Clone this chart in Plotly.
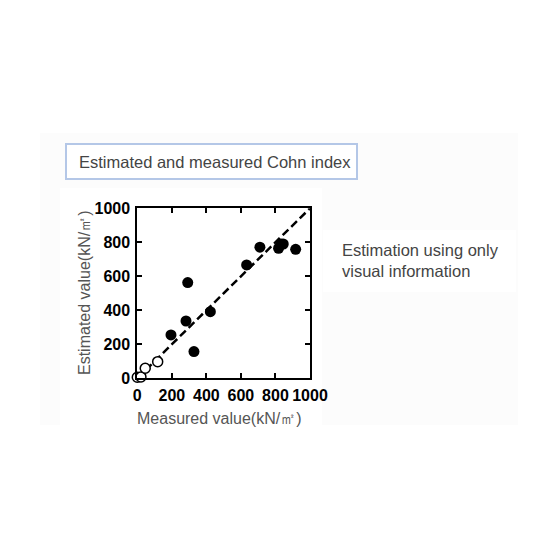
import plotly.graph_objects as go

# Data
filled_x = [195, 282, 292, 328, 423, 633, 710, 818, 832, 845, 917]
filled_y = [255, 337, 563, 157, 392, 667, 771, 765, 790, 790, 759]
open_x = [0, 21, 46, 118]
open_y = [6, 8, 59, 98]
line_x = [0, 1000]
line_y = [0, 1000]
tick_vals = [0, 200, 400, 600, 800, 1000]

W, H = 560, 560
def px(x):
    return x / W
def py(y):
    return 1 - y / H

fig = go.Figure()
fig.add_trace(go.Scatter(x=line_x, y=line_y, mode="lines",
                         line=dict(color="black", width=2.5, dash="8px,4px"),
                         hoverinfo="skip", showlegend=False))
fig.add_trace(go.Scatter(x=filled_x, y=filled_y, mode="markers",
                         marker=dict(size=11, color="black"),
                         cliponaxis=False, showlegend=False))
fig.add_trace(go.Scatter(x=open_x, y=open_y, mode="markers",
                         marker=dict(size=10, color="white", line=dict(color="black", width=1.5)),
                         cliponaxis=False, showlegend=False))

axis_common = dict(range=[0, 1000], tickvals=tick_vals, showline=True, linecolor="black",
                   linewidth=2, mirror="ticks", ticks="inside", ticklen=5, tickwidth=1.5,
                   tickcolor="black", showgrid=False, zeroline=False, automargin=False,
                   tickangle=0,
                   tickfont=dict(family="Liberation Sans, Arial", size=16, color="black", weight="bold"))

fig.update_layout(
    width=W, height=H, autosize=False,
    margin=dict(l=0, r=0, t=0, b=0, pad=0, autoexpand=False),
    paper_bgcolor="white", plot_bgcolor="white",
    xaxis=dict(domain=[px(137.3), px(310)], ticklabelstandoff=1, **axis_common),
    yaxis=dict(domain=[py(378.3), py(208.3)], ticklabelstandoff=2, **axis_common),
    shapes=[
        dict(type="rect", xref="paper", yref="paper", x0=px(40), x1=px(518), y0=py(425), y1=py(133),
             fillcolor="#fcfcfc", line=dict(width=0), layer="below"),
        dict(type="rect", xref="paper", yref="paper", x0=px(60), x1=px(322), y0=py(432), y1=py(188),
             fillcolor="white", line=dict(width=0), layer="below"),
        dict(type="rect", xref="paper", yref="paper", x0=px(323), x1=px(516), y0=py(292), y1=py(230),
             fillcolor="white", line=dict(width=0), layer="below"),
        dict(type="rect", xref="paper", yref="paper", x0=px(66), x1=px(357), y0=py(179), y1=py(144),
             fillcolor="white", line=dict(color="#b4c7e7", width=2), layer="below"),
    ],
    annotations=[
        dict(text="Estimated and measured Cohn index", xref="paper", yref="paper",
             x=px(77), y=py(161.5), xanchor="left", yanchor="middle", showarrow=False,
             font=dict(family="Liberation Sans, Arial", size=16.5, color="#444444")),
        dict(text="Estimation using only<br>visual information", xref="paper", yref="paper",
             x=px(340), y=py(260), xanchor="left", yanchor="middle", align="left", showarrow=False,
             font=dict(family="Liberation Sans, Arial", size=16.5, color="#444444")),
        dict(text="Measured value(kN/㎡)", xref="paper", yref="paper",
             x=px(219), y=py(418), xanchor="center", yanchor="middle", showarrow=False,
             font=dict(family="Liberation Sans, Arial", size=16, color="#555555")),
        dict(text="Estimated value(kN/㎡)", xref="paper", yref="paper", textangle=-90,
             x=px(84), y=py(293), xanchor="center", yanchor="middle", showarrow=False,
             font=dict(family="Liberation Sans, Arial", size=16, color="#555555")),
    ],
)

fig.write_html("out.html", config={"displayModeBar": False},
               post_script="document.body.style.margin='0px';")
